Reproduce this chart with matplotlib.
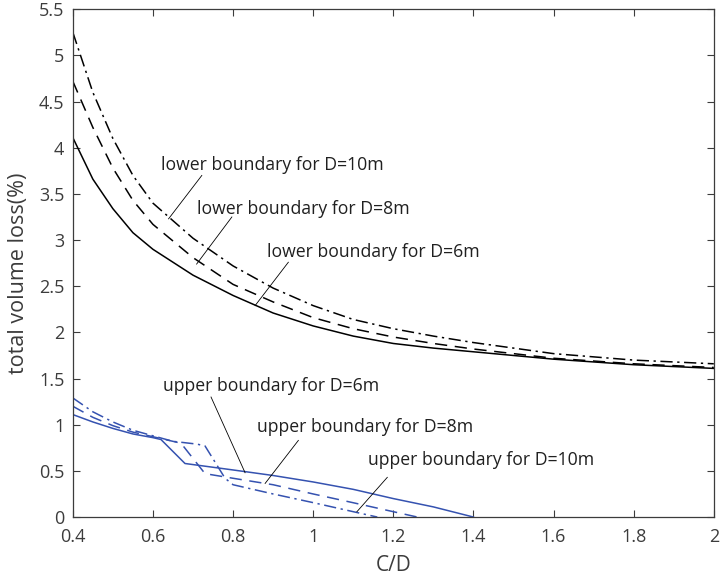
import matplotlib
matplotlib.use("Agg")
import matplotlib.pyplot as plt

plt.rcParams['font.family'] = ['Open Sans', 'DejaVu Sans']

# lower boundaries (black)
x_low = [0.4, 0.45, 0.5, 0.55, 0.6, 0.7, 0.8, 0.9, 1.0, 1.1, 1.2, 1.3, 1.4, 1.5, 1.6, 1.8, 2.0]
low_d6 = [4.11, 3.66, 3.34, 3.08, 2.90, 2.62, 2.40, 2.21, 2.07, 1.96, 1.88, 1.83, 1.79, 1.75, 1.71, 1.65, 1.61]
low_d8 = [4.72, 4.22, 3.78, 3.43, 3.17, 2.81, 2.52, 2.33, 2.16, 2.04, 1.95, 1.88, 1.82, 1.77, 1.72, 1.66, 1.62]
low_d10 = [5.25, 4.60, 4.10, 3.70, 3.40, 3.02, 2.72, 2.48, 2.29, 2.14, 2.04, 1.96, 1.89, 1.83, 1.77, 1.70, 1.66]

# upper boundaries (blue)
x_up6 = [0.4, 0.45, 0.5, 0.55, 0.6, 0.62, 0.68, 0.8, 0.9, 1.0, 1.1, 1.2, 1.3, 1.4]
up_d6 = [1.11, 1.03, 0.96, 0.90, 0.86, 0.84, 0.58, 0.51, 0.45, 0.38, 0.30, 0.20, 0.11, 0.0]
x_up8 = [0.4, 0.45, 0.5, 0.55, 0.6, 0.67, 0.73, 0.8, 0.9, 1.0, 1.1, 1.2, 1.26]
up_d8 = [1.20, 1.08, 0.99, 0.92, 0.87, 0.80, 0.47, 0.42, 0.35, 0.25, 0.155, 0.058, 0.0]
x_up10 = [0.4, 0.45, 0.5, 0.55, 0.6, 0.65, 0.71, 0.73, 0.78, 0.8, 0.9, 1.0, 1.1, 1.16]
up_d10 = [1.29, 1.14, 1.03, 0.94, 0.88, 0.82, 0.79, 0.77, 0.42, 0.35, 0.25, 0.156, 0.058, 0.0]

# labels: text, text position, leader line (start, end)
labels = ["lower boundary for D=10m", "lower boundary for D=8m", "lower boundary for D=6m",
          "upper boundary for D=6m", "upper boundary for D=8m", "upper boundary for D=10m"]
label_pos = [(0.619, 3.81), (0.709, 3.34), (0.884, 2.87),
             (0.625, 1.42), (0.859, 0.976), (1.138, 0.616)]
leaders = [((0.722, 3.70), (0.639, 3.23)), ((0.797, 3.25), (0.709, 2.74)),
           ((0.938, 2.76), (0.855, 2.29)), ((0.745, 1.30), (0.83, 0.48)),
           ((0.963, 0.83), (0.88, 0.364)), ((1.185, 0.43), (1.109, 0.057))]

blue = '#3552b0'
axcol = '#3c3c3c'

fig = plt.figure(figsize=(7.21, 5.79), dpi=100)
ax = fig.add_axes([0.101, 0.107, 0.889, 0.877])

ax.plot(x_low, low_d6, '-', color='black', lw=1.1)
ax.plot(x_low, low_d8, color='black', lw=1.1, dashes=(8, 5))
ax.plot(x_low, low_d10, color='black', lw=1.1, dashes=(8, 3, 1.5, 3))

ax.plot(x_up6, up_d6, '-', color=blue, lw=1.1)
ax.plot(x_up8, up_d8, color=blue, lw=1.1, dashes=(8, 5))
ax.plot(x_up10, up_d10, color=blue, lw=1.1, dashes=(8, 3, 1.5, 3))

for txt, (tx, ty), (p0, p1) in zip(labels, label_pos, leaders):
    ax.text(tx, ty, txt, fontsize=12.7, color='#202020', ha='left', va='center')
    ax.plot([p0[0], p1[0]], [p0[1], p1[1]], color='black', lw=0.6)

ax.set_xlim(0.4, 2)
ax.set_ylim(0, 5.5)
ax.set_xticks([0.4, 0.6, 0.8, 1, 1.2, 1.4, 1.6, 1.8, 2])
ax.set_xticklabels(['0.4', '0.6', '0.8', '1', '1.2', '1.4', '1.6', '1.8', '2'])
ax.set_yticks([0, 0.5, 1, 1.5, 2, 2.5, 3, 3.5, 4, 4.5, 5, 5.5])
ax.set_yticklabels(['0', '0.5', '1', '1.5', '2', '2.5', '3', '3.5', '4', '4.5', '5', '5.5'])
ax.tick_params(direction='in', top=True, right=True, length=5, width=0.8,
               colors=axcol, labelsize=13, labelcolor=axcol)
ax.tick_params(axis='x', pad=8)
ax.tick_params(axis='y', pad=6)
for s in ax.spines.values():
    s.set_color(axcol)
    s.set_linewidth(0.9)

ax.set_xlabel('C/D', fontsize=15, color=axcol)
ax.set_ylabel('total volume loss(%)', fontsize=15.5, color=axcol)
ax.xaxis.set_label_coords(0.5, -0.075)
ax.yaxis.set_label_coords(-0.068, 0.48)

fig.savefig('out.png', dpi=100)
